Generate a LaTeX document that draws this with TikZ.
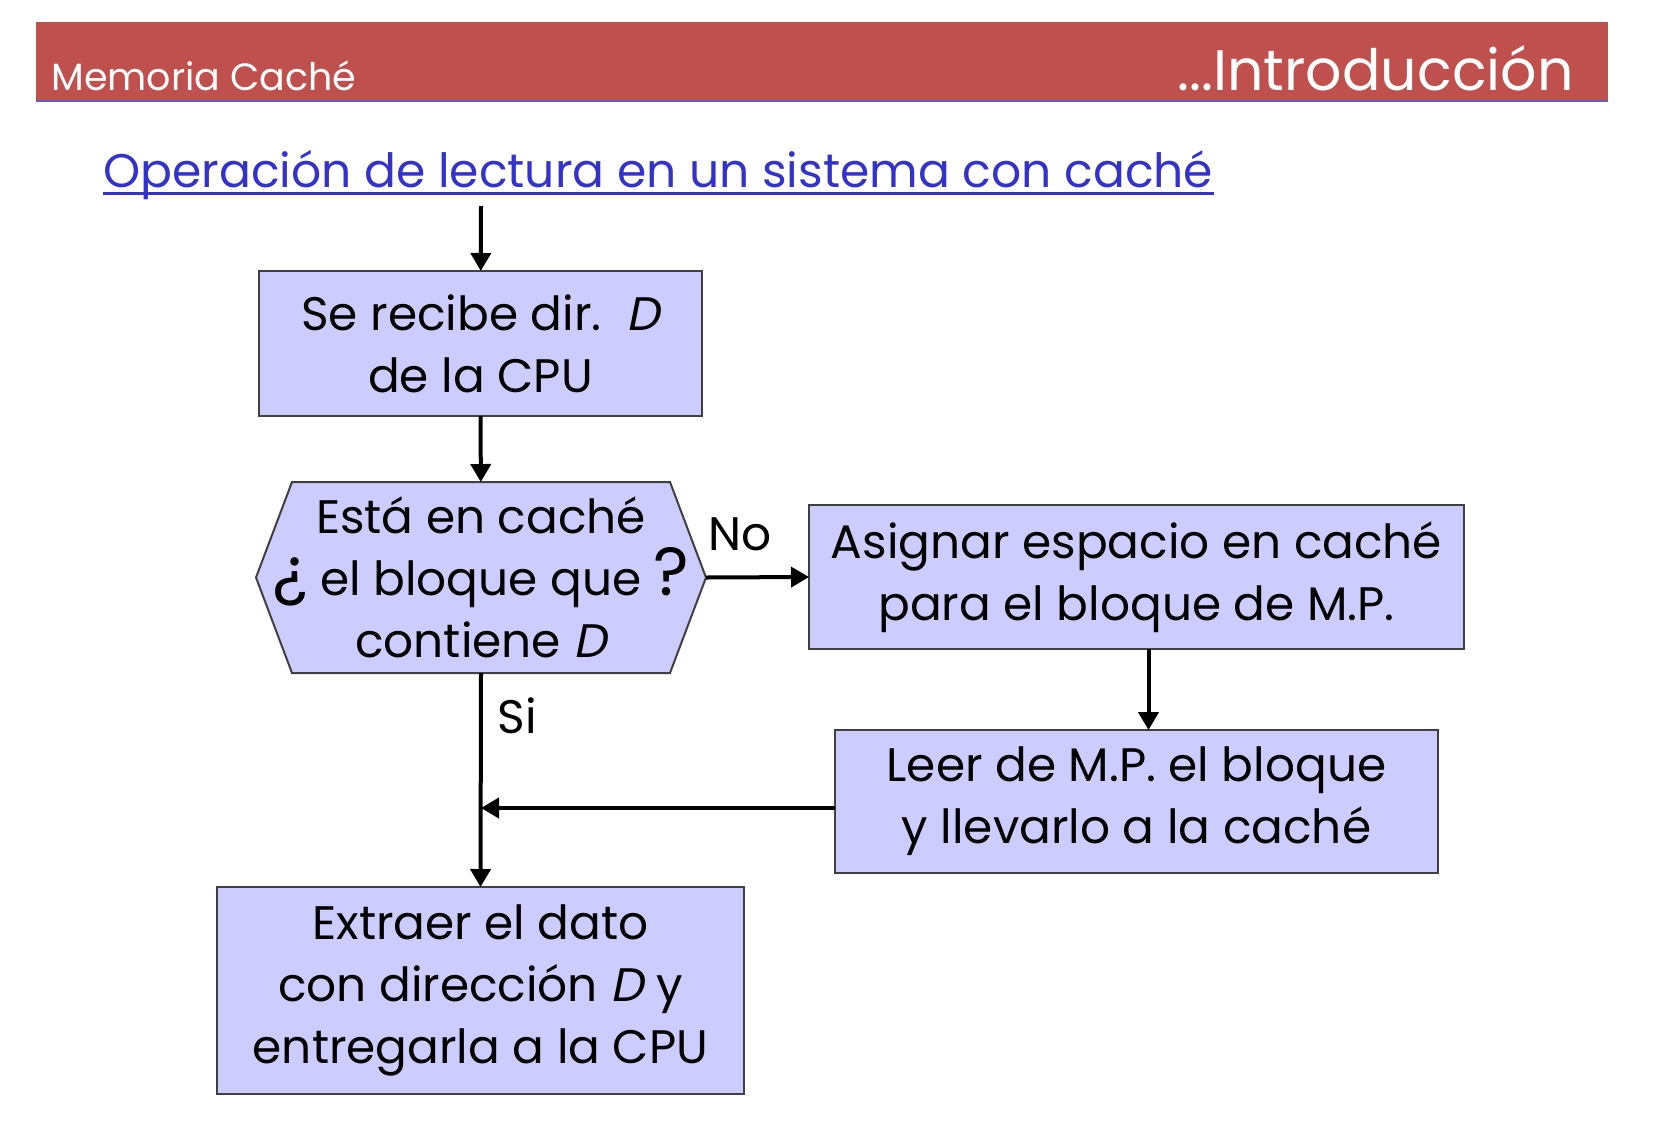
\documentclass[tikz,border=0pt]{standalone}
\usepackage{fontspec}
\setmainfont{Poppins}[AutoFakeSlant=0.2]
\usetikzlibrary{arrows.meta,calc,backgrounds}
\definecolor{barred}{RGB}{192,80,77}
\definecolor{barline}{RGB}{96,96,190}
\definecolor{boxfill}{RGB}{204,204,255}
\definecolor{ttlblue}{RGB}{51,51,204}
\newcommand{\boxfont}{\fontsize{23.5}{31}\selectfont}
\newcommand{\bigq}[1]{{\fontsize{34}{31}\selectfont #1}}

\begin{document}
\begin{tikzpicture}[x=0.5pt,y=-0.5pt,>={Triangle[length=9pt,width=10pt]},
  flowbox/.style={draw=black!75,fill=boxfill,line width=1pt,inner sep=0pt,
    outer sep=0pt,align=center,font=\boxfont},
  arr/.style={->,line width=2pt}]
  \useasboundingbox (0,0) rectangle (1654,1146);
  % header bar
  \fill[barred] (36,22) rectangle (1608,100);
  \draw[barline,line width=1pt] (36,101) -- (1608,101);
  \node[anchor=base west,inner sep=0pt,white,font=\fontsize{19}{19}\selectfont] (hdleft) at (51,90) {Memoria Caché};
  \node[anchor=base east,inner sep=0pt,white,font=\fontsize{28.5}{28.5}\selectfont] (hdright) at (1574,90) {...Introducción};
  % title
  \node[anchor=base west,inner sep=0pt,ttlblue,font=\fontsize{23.6}{23.6}\selectfont] (ttl) at (103,187) {Operación de lectura en un sistema con caché};
  \draw[ttlblue,line width=1.5pt] ($(ttl.base west)+(0,6)$) -- ($(ttl.base east)+(0,6)$);
  % flow
  \coordinate (start) at (481,206);
  \node[flowbox,minimum width=221.5pt,minimum height=72.5pt] (recv) at (480.5,343.5)
    {Se recibe dir.\ \ \textit{D}\\de la CPU};
  \node[inner sep=0pt,outer sep=0pt,minimum width=225pt,minimum height=95.5pt,align=center,font=\boxfont] (dec) at (481,577.5)
    {Está en caché\\\bigq{¿} el bloque que \bigq{?}\\contiene \textit{D}};
  \begin{scope}[on background layer]
    \draw[draw=black!75,fill=boxfill,line width=1pt] (dec.west) -- ($(dec.north west)+(36,0)$)
      -- ($(dec.north east)+(-36,0)$) -- (dec.east) -- ($(dec.south east)+(-36,0)$)
      -- ($(dec.south west)+(36,0)$) -- cycle;
  \end{scope}
  \node[flowbox,minimum width=327.5pt,minimum height=72pt] (alloc) at (1136.5,577)
    {Asignar espacio en caché\\para el bloque de M.P.};
  \node[flowbox,minimum width=301.5pt,minimum height=71.5pt] (fetch) at (1136.5,801.5)
    {Leer de M.P. el bloque\\y llevarlo a la caché};
  \node[flowbox,minimum width=263.5pt,minimum height=103.5pt] (give) at (480.5,990.5)
    {Extraer el dato\\con dirección \textit{D} y\\entregarla a la CPU};
  \coordinate (back) at ([yshift=-3.25pt]fetch.west);
  \draw[arr] (start) -- (recv);
  \draw[arr] (recv) -- (dec);
  \draw[arr] (dec.east) -- node[above,pos=0.33,font=\boxfont,yshift=9pt] (lblno) {No} (alloc.west);
  \draw[arr] ([xshift=6pt]alloc.south) -- ([xshift=6pt]fetch.north);
  \draw[arr] (dec.south) -- node[right,pos=0.2,font=\boxfont,xshift=4pt] (lblsi) {Si} (give.north);
  \draw[arr] (back) -- (dec.south |- back);
\end{tikzpicture}
\end{document}
